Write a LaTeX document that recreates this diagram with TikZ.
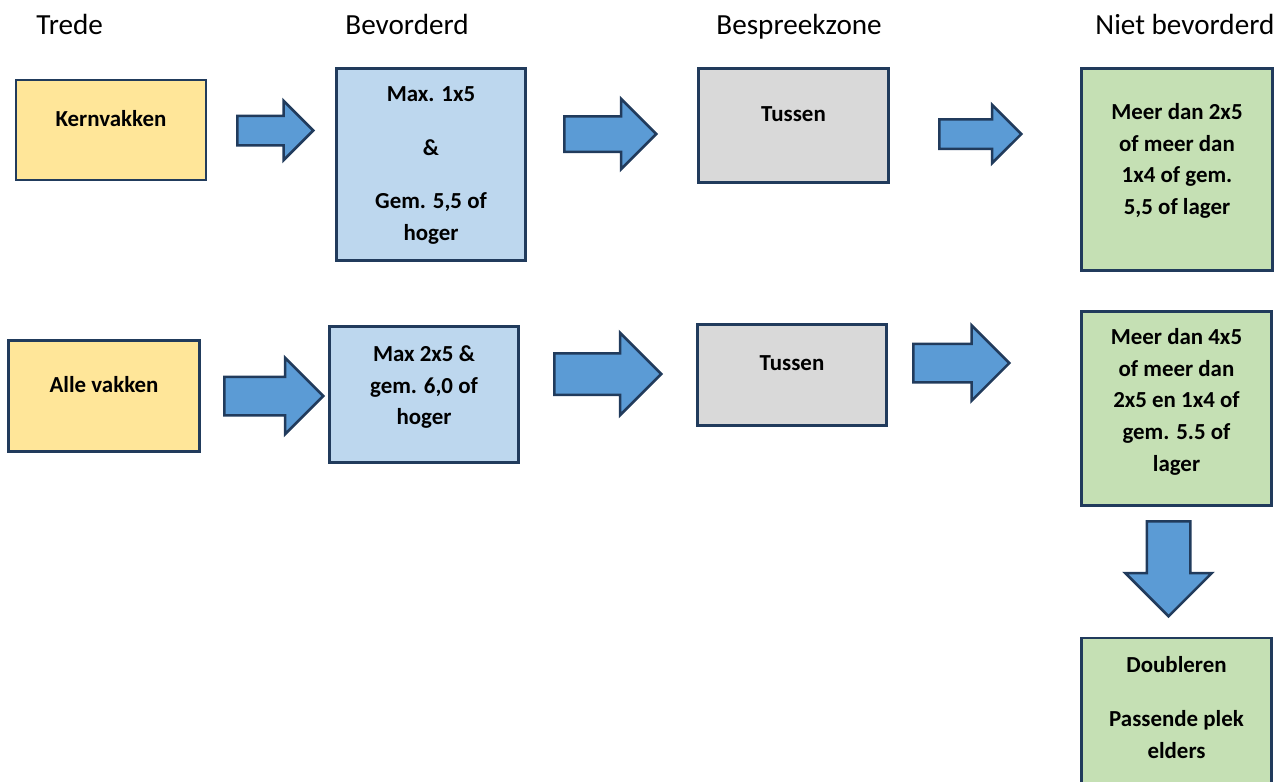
\documentclass[tikz,border=0pt]{standalone}
\usepackage{fontspec}
\setmainfont{Carlito}
\usetikzlibrary{shapes.arrows}

\newcommand{\pxu}{0.48pt}
\definecolor{rand}{HTML}{213B5C}
\definecolor{geel}{HTML}{FFE699}
\definecolor{lichtblauw}{HTML}{BDD7EE}
\definecolor{grijs}{HTML}{D9D9D9}
\definecolor{groen}{HTML}{C5E0B4}
\definecolor{pijlblauw}{HTML}{5B9BD5}

\tikzset{
  kop/.style={anchor=base west, inner sep=0pt, font=\fontsize{14pt}{17pt}\selectfont},
  vak/.style n args={3}{draw=rand, line width=1.3pt, inner sep=0pt, fill=#1,
    minimum width=#2*\pxu, minimum height=#3*\pxu},
  tekst/.style={anchor=north, inner sep=0pt, align=center,
    font=\bfseries\fontsize{11pt}{15.2pt}\selectfont},
  pijl/.style n args={3}{single arrow, draw=rand, fill=pijlblauw, line width=1.2pt,
    inner sep=0pt, inner ysep=#2*\pxu/2, single arrow head extend=(#3-#2)*\pxu/2,
    minimum height=#1*\pxu, anchor=tail}
}

\begin{document}
\begin{tikzpicture}[x=\pxu, y=-\pxu]
      \useasboundingbox (0,0) rectangle (1281,781);
      \clip (0,0) rectangle (1281,781);

      % kopjes
      \node[kop] (trede) at (36,34) {Trede};
      \node[kop] (bevorderd) at (345,34) {Bevorderd};
      \node[kop] (bespreek) at (716,34) {Bespreekzone};
      \node[kop] (niet) at (1095,34) {Niet bevorderd};

      % bovenste rij
      \node[vak={geel}{190}{100}] (kern) at (111,130) {};
      \node[vak={lichtblauw}{189}{192}] (bev1) at (431,164.5) {};
      \node[vak={grijs}{190}{114}] (tus1) at (793.5,125.5) {};
      \node[vak={groen}{191}{202}] (niet1) at (1177,169.5) {};
      \node[tekst] (kerntxt) at ([yshift=-31*\pxu]kern.north) {Kernvakken};
      \node[tekst] (bev1txt) at ([yshift=-19*\pxu]bev1.north)
        {Max. 1x5\\[10.6pt]\&\\[10.6pt]Gem. 5,5 of\\hoger};
      \node[tekst] (tus1txt) at ([yshift=-39*\pxu]tus1.north) {Tussen};
      \node[tekst] (niet1txt) at ([yshift=-36*\pxu]niet1.north)
        {Meer dan 2x5\\of meer dan\\1x4 of gem.\\5,5 of lager};

      % onderste rij
      \node[vak={geel}{191}{111}] (alle) at (104,396) {};
      \node[vak={lichtblauw}{189}{136}] (bev2) at (424,394.5) {};
      \node[vak={grijs}{189}{101}] (tus2) at (792,375) {};
      \node[vak={groen}{190}{194}] (niet2) at (1176.5,408.5) {};
      \node[vak={groen}{190}{200}] (doub) at (1176.5,738) {};
      \node[tekst] (alletxt) at ([yshift=-37*\pxu]alle.north) {Alle vakken};
      \node[tekst] (bev2txt) at ([yshift=-20*\pxu]bev2.north)
        {Max 2x5 \&\\gem. 6,0 of\\hoger};
      \node[tekst] (tus2txt) at ([yshift=-32*\pxu]tus2.north) {Tussen};
      \node[tekst] (niet2txt) at ([yshift=-18*\pxu]niet2.north)
        {Meer dan 4x5\\of meer dan\\2x5 en 1x4 of\\gem. 5.5 of\\lager};
      \node[tekst] (doubtxt) at ([yshift=-19*\pxu]doub.north)
        {Doubleren\\[11pt]Passende plek\\elders};

      % pijlen
      \node[pijl={76}{27}{57}] (p1) at (236,130.5) {};
      \node[pijl={92}{33}{68}] (p2) at (563,134) {};
      \node[pijl={82}{27}{56}] (p3) at (938,134) {};
      \node[pijl={99}{36}{74}] (p4) at (223,396) {};
      \node[pijl={107}{39}{80}] (p5) at (553,374) {};
      \node[pijl={96}{36}{73}] (p6) at (912,363) {};
      \node[pijl={95}{41}{84}, rotate=-90] (p7) at (1168.5,520) {};
    \end{tikzpicture}
\end{document}
